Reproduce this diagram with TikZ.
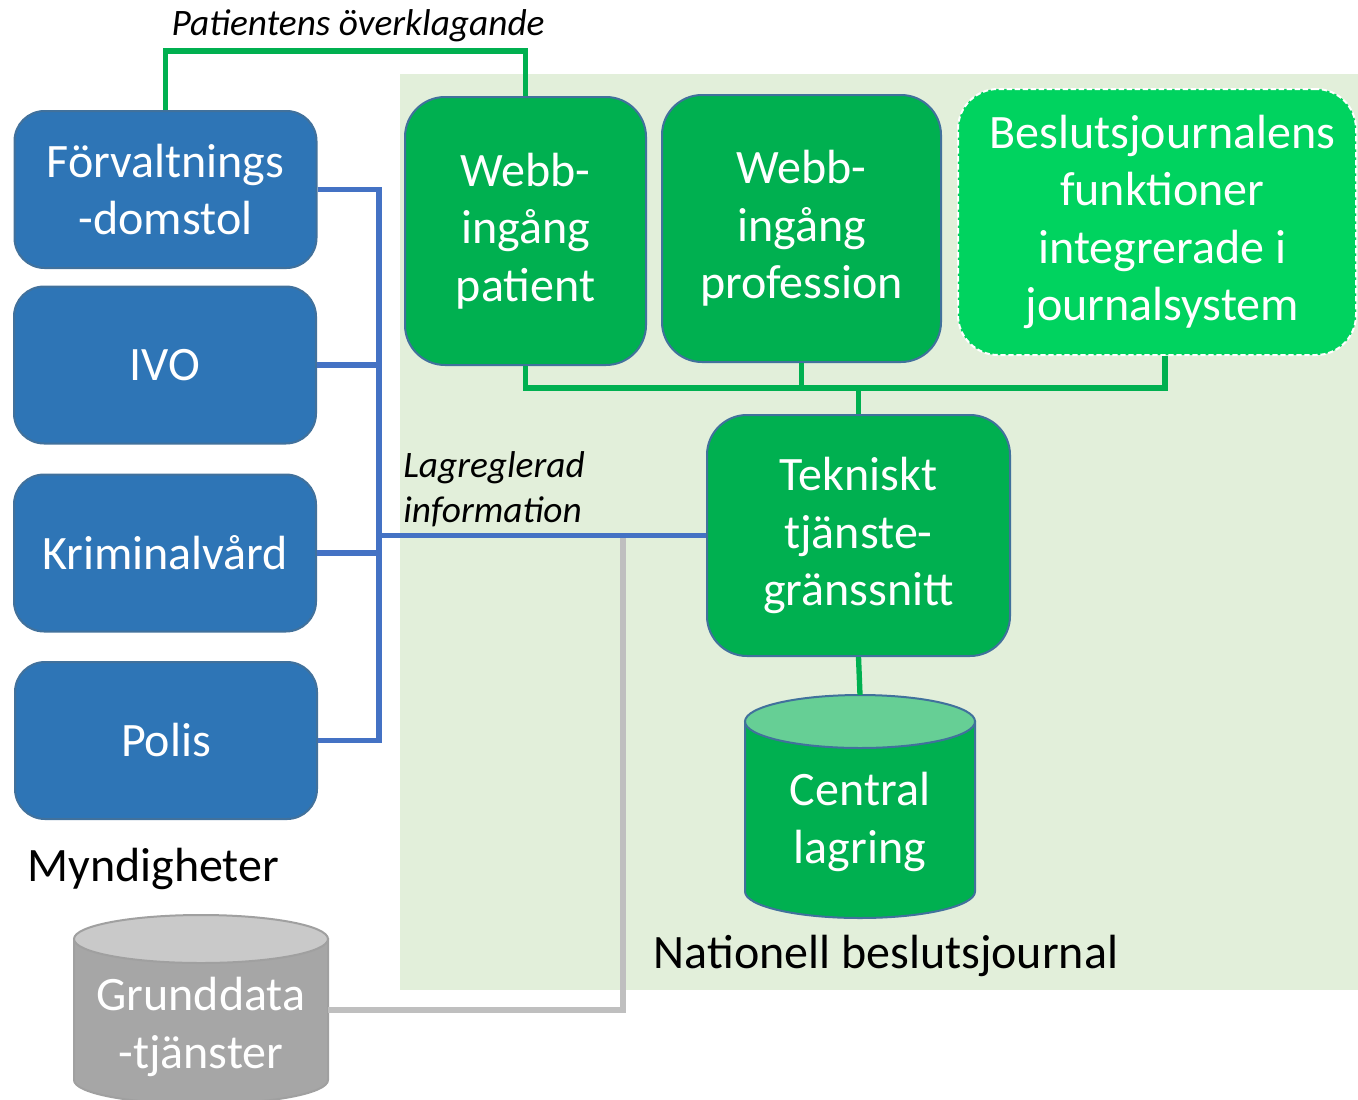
\documentclass[tikz,border=0pt]{standalone}
\usepackage{fontspec}
\setmainfont{Carlito}
\definecolor{bgreen}{HTML}{E2EFDA}
\definecolor{myblue}{HTML}{2E75B6}
\definecolor{bord}{HTML}{41719C}
\definecolor{mygreen}{HTML}{00B050}
\definecolor{brightgreen}{HTML}{00D35F}
\definecolor{cyltop}{HTML}{66CF95}
\definecolor{blueline}{HTML}{4472C4}
\definecolor{grayline}{HTML}{BFBFBF}
\definecolor{graybody}{HTML}{A6A6A6}
\definecolor{graytop}{HTML}{C9C9C9}
\definecolor{grayborder}{HTML}{A0A0A0}
\newcommand\bigf{\fontsize{36}{43}\selectfont}
\newcommand\smallf{\fontsize{28}{33.75}\selectfont\itshape}
\tikzset{
  basebox/.style={rectangle, inner sep=0pt, text=white, align=center, font=\bigf, line width=1.5pt},
  bluebox/.style={basebox, rounded corners=22.5pt, fill=myblue, draw=bord, minimum width=226.5pt, minimum height=117.75pt},
  greenbox/.style={basebox, rounded corners=30pt, fill=mygreen, draw=bord},
  dashbox/.style={basebox, rounded corners=30pt, fill=brightgreen, draw=white, dash pattern=on 4pt off 2pt},
  cyltext/.style={inner sep=0pt, text=white, align=center, font=\bigf},
  gline/.style={draw=mygreen, line width=4pt},
  bline/.style={draw=blueline, line width=4pt},
  grline/.style={draw=grayline, line width=5pt},
  plain/.style={inner sep=0pt, font=\bigf},
  ital/.style={inner sep=0pt, font=\smallf, align=left}
}
\begin{document}
\begin{tikzpicture}[x=0.75pt,y=-0.75pt]
\useasboundingbox (0,0) rectangle (1358,1099);
% background
\fill[bgreen] (400,74) rectangle (1358,990);

% blue boxes
\node[bluebox] (fd) at (165.5,189.5) {Förvaltnings\\-domstol};
\node[bluebox] (ivo) at (165,365) {IVO};
\node[bluebox] (krim) at (165,553) {Kriminalvård};
\node[bluebox] (polis) at (166,740.5) {Polis};
\node[plain, anchor=west] (myn) at (27,869) {Myndigheter};

% green boxes
\node[greenbox, minimum width=180.75pt, minimum height=201pt] (wp) at (525.5,231) {Webb-\\ingång\\patient};
\node[greenbox, minimum width=209.25pt, minimum height=200.25pt] (wpr) at (801.5,228.5) {Webb-\\ingång\\profession};
\node[dashbox, minimum width=298.5pt, minimum height=199.5pt] (bj) at (1157,222) {\hspace*{8pt}Beslutsjournalens\\\hspace*{8pt}funktioner\\\hspace*{8pt}integrerade i\\\hspace*{8pt}journalsystem};
\node[greenbox, minimum width=227.25pt, minimum height=180.75pt] (tek) at (858.5,535.5) {Tekniskt\\tjänste-\\gränssnitt};

% central cylinder
\filldraw[fill=mygreen, draw=bord, line width=1.5pt] (745,721.5) -- (745,891.5) arc[start angle=180, end angle=0, x radius=115, y radius=26.5] -- (975,721.5) -- cycle;
\filldraw[fill=cyltop, draw=bord, line width=1.5pt] (860,721.5) ellipse[x radius=115, y radius=26.5];
\coordinate (cltop) at (860,695);
\node[cyltext] (cl) at (860,822) {Central\\lagring};
\node[plain] (nat) at (886,956) {Nationell beslutsjournal};

% grunddata cylinder
\filldraw[fill=graybody, draw=grayborder, line width=1.5pt] (74,939) -- (74,1080) arc[start angle=180, end angle=0, x radius=127, y radius=24] -- (328,939) -- cycle;
\filldraw[fill=graytop, draw=grayborder, line width=1.5pt] (201,939) ellipse[x radius=127, y radius=24];
\node[cyltext] (gd) at (201,1027) {Grunddata\\-tjänster};
\coordinate (gdr) at (328,1010);

% helper coordinates
\coordinate (topy) at (0,51);
\coordinate (busx) at (379,0);
\coordinate (gj) at (858.5,388);
\coordinate (gtop) at (623,535.5);

% connectors
\draw[gline] (fd.north) -- (fd.north |- topy) -| (wp.north);
\node[ital, anchor=center] (pat) at (358,26) {Patientens överklagande};

\draw[grline] (gdr) -| (gtop);

\draw[bline] (fd.east) -- (fd.east -| busx) -- (polis.east -| busx) -- (polis.east);
\draw[bline] (ivo.east) -- (ivo.east -| busx);
\draw[bline] (krim.east) -- (krim.east -| busx);
\draw[bline] (tek.west -| busx) -- (tek.west);
\node[ital, anchor=north west] (lag) at (403,451) {Lagreglerad\\information};

\draw[gline] (wp.south) |- (gj);
\draw[gline] (wpr.south) -- (wpr.south |- gj);
\draw[gline] ([xshift=6pt]bj.south) |- (gj);
\draw[gline] (gj) -- (tek.north);
\draw[gline] (tek.south) -- (cltop);
\end{tikzpicture}
\end{document}
